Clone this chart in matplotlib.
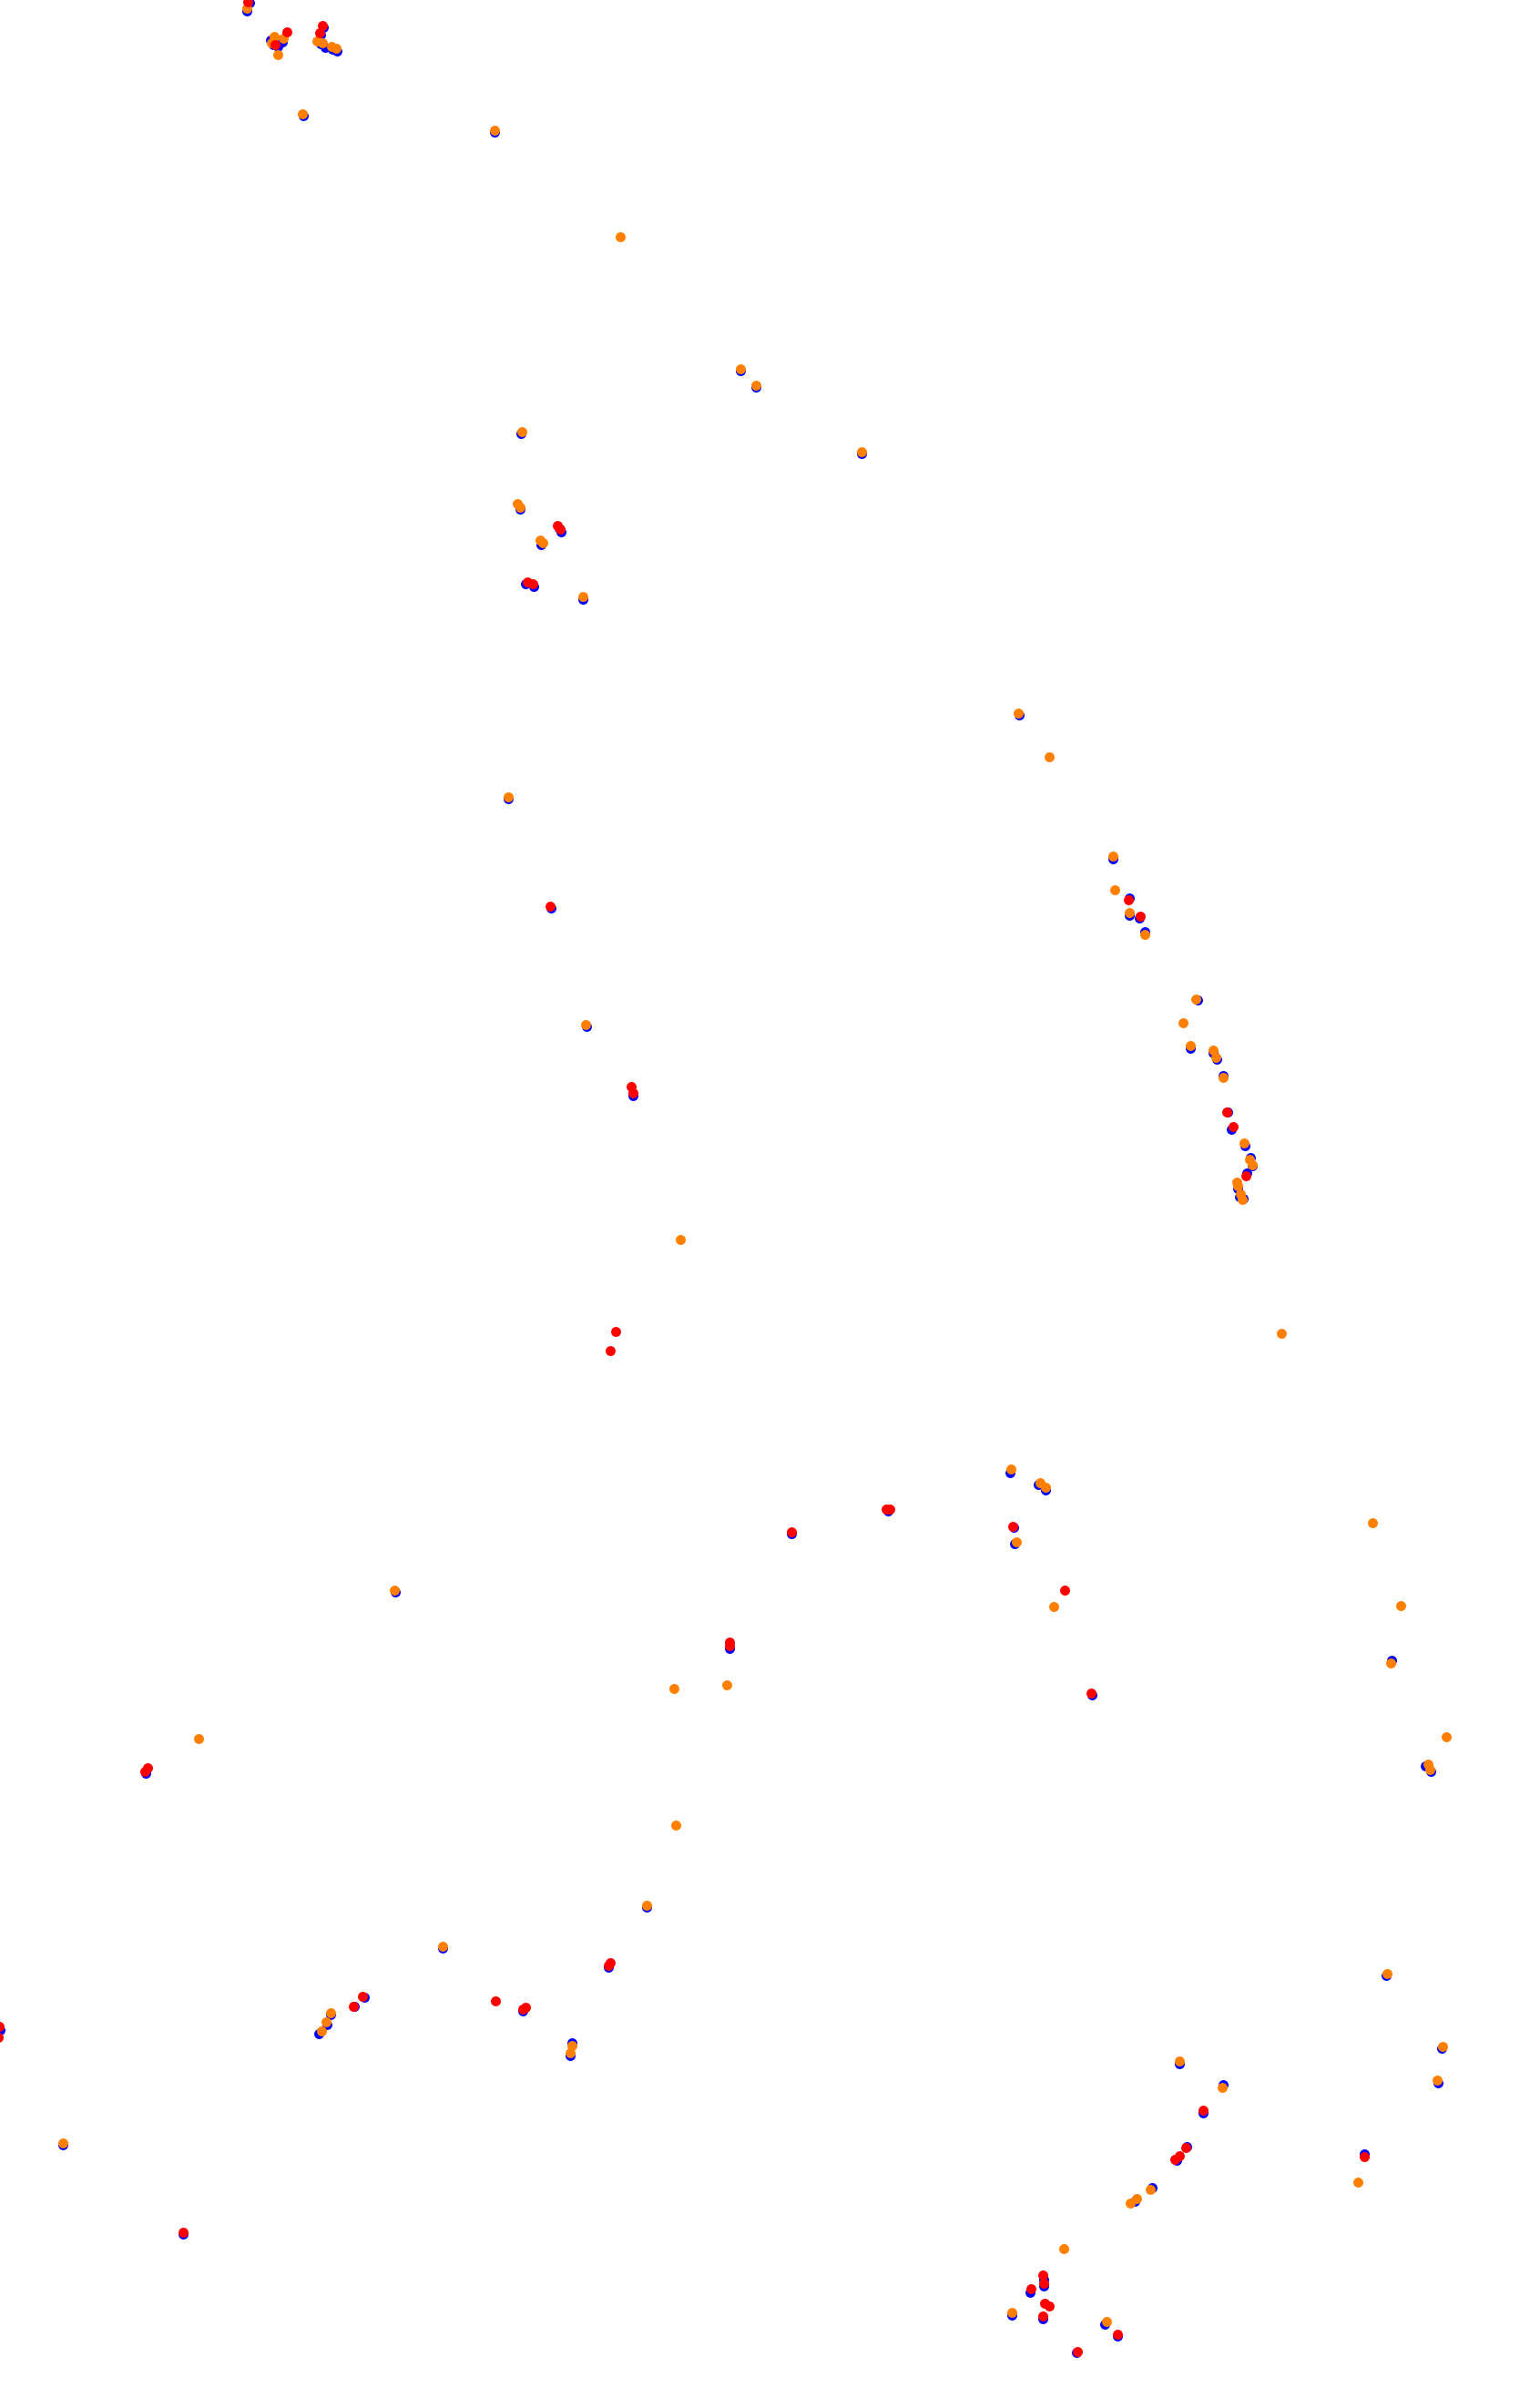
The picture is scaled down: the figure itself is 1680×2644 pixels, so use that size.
import numpy as np
import matplotlib
matplotlib.use('Agg')
import matplotlib.pyplot as plt

# point positions (x, y), y grows downward
blue_pts = [
    (274, 3), (271, 12),
    (300, 49), (305, 51), (310, 46), (297, 44),
    (355, 30), (352, 38), (352, 48), (357, 52), (365, 54), (370, 56),
    (333, 127), (543, 145), (813, 407), (830, 425), (946, 498),
    (572, 476), (571, 559), (614, 580), (616, 584), (594, 598), (577, 641), (586, 644), (640, 658),
    (1119, 785), (558, 877), (605, 997),
    (1222, 943), (1240, 986), (1240, 1005), (1251, 1008), (1257, 1023),
    (1315, 1098), (1307, 1151), (1332, 1156), (1336, 1163), (1343, 1181), (1348, 1221), (1352, 1240),
    (1367, 1258), (1373, 1271), (1375, 1280), (1369, 1288), (1359, 1305), (1361, 1314), (1365, 1316),
    (644, 1127), (695, 1203),
    (1109, 1617), (1140, 1630), (1148, 1636), (1113, 1677), (1114, 1695),
    (1528, 1823), (1565, 1939), (1571, 1945),
    (1199, 1861), (869, 1684), (975, 1659), (434, 1748), (801, 1810), (160, 1947),
    (710, 2094), (486, 2139), (668, 2160),
    (574, 2208), (628, 2243), (626, 2257),
    (400, 2193), (389, 2203), (363, 2212), (359, 2223), (350, 2233),
    (0, 2229), (69, 2355), (201, 2453),
    (1295, 2266), (1343, 2289), (1321, 2320), (1303, 2357), (1292, 2372), (1265, 2402), (1246, 2417),
    (1522, 2169), (1583, 2249), (1579, 2287), (1498, 2365),
    (1146, 2503), (1146, 2510), (1131, 2517), (1145, 2546), (1111, 2542), (1213, 2552), (1227, 2565), (1182, 2583),
]

orange_pts = [
    (271, 9), (301, 40), (311, 42), (298, 47), (305, 60),
    (348, 45), (354, 47), (364, 51), (369, 53),
    (332, 125), (543, 143), (681, 260), (813, 405), (830, 423), (946, 496),
    (573, 474), (568, 553), (571, 557), (593, 593), (596, 596), (640, 655),
    (1118, 783), (1152, 831), (558, 875),
    (1222, 940), (1224, 977), (1240, 1002), (1257, 1026),
    (1313, 1097), (1299, 1123), (1307, 1148), (1332, 1153), (1335, 1161), (1343, 1183), (1366, 1255),
    (1372, 1273), (1375, 1279), (1358, 1298), (1359, 1302), (1362, 1311), (1364, 1317),
    (643, 1125), (747, 1361), (1407, 1464),
    (1110, 1613), (1142, 1628), (1148, 1633), (1116, 1693),
    (1507, 1672), (1538, 1763), (1527, 1826), (1588, 1907), (1568, 1937), (1570, 1943),
    (1157, 1764), (433, 1746), (740, 1854), (798, 1850), (218, 1909), (742, 2004), (710, 2092), (486, 2137),
    (628, 2246), (626, 2254), (363, 2210), (358, 2220), (353, 2230),
    (69, 2353),
    (1295, 2263), (1342, 2292), (1263, 2404), (1248, 2414), (1241, 2419),
    (1523, 2167), (1584, 2247), (1578, 2284), (1491, 2396),
    (1168, 2469), (1111, 2539), (1215, 2549),
]

red_pts = [
    (272, 2), (315, 35), (302, 49), (354, 28), (351, 36),
    (612, 577), (615, 581), (579, 639), (585, 641),
    (604, 995), (1239, 988), (1252, 1006),
    (1347, 1221), (1354, 1237), (1368, 1291),
    (693, 1193), (695, 1200), (676, 1462), (670, 1483),
    (1112, 1676), (1169, 1746), (1198, 1859), (869, 1682), (973, 1657), (977, 1657),
    (801, 1803), (801, 1807), (162, 1941), (159, 1945),
    (670, 2155), (668, 2158), (544, 2197), (577, 2204), (574, 2206),
    (398, 2192), (388, 2203),
    (-1, 2225), (-2, 2237), (201, 2451),
    (1321, 2317), (1302, 2358), (1295, 2367), (1290, 2371),
    (1498, 2368),
    (1145, 2498), (1146, 2507), (1132, 2513), (1147, 2529), (1152, 2532), (1145, 2543), (1227, 2563), (1183, 2582),
]

fig = plt.figure(figsize=(16.8, 26.44), dpi=100)
ax = fig.add_axes([0, 0, 1, 1])

for pts, col in [(blue_pts, '#0000ff'), (orange_pts, '#ff8000'), (red_pts, '#ff0000')]:
    arr = np.array(pts)
    ax.scatter(arr[:, 0], arr[:, 1], s=62, c=col, linewidths=0)

ax.set_xlim(0, 1680)
ax.set_ylim(2644, 0)
ax.axis('off')

fig.savefig('out.png', dpi=100, facecolor='white')
